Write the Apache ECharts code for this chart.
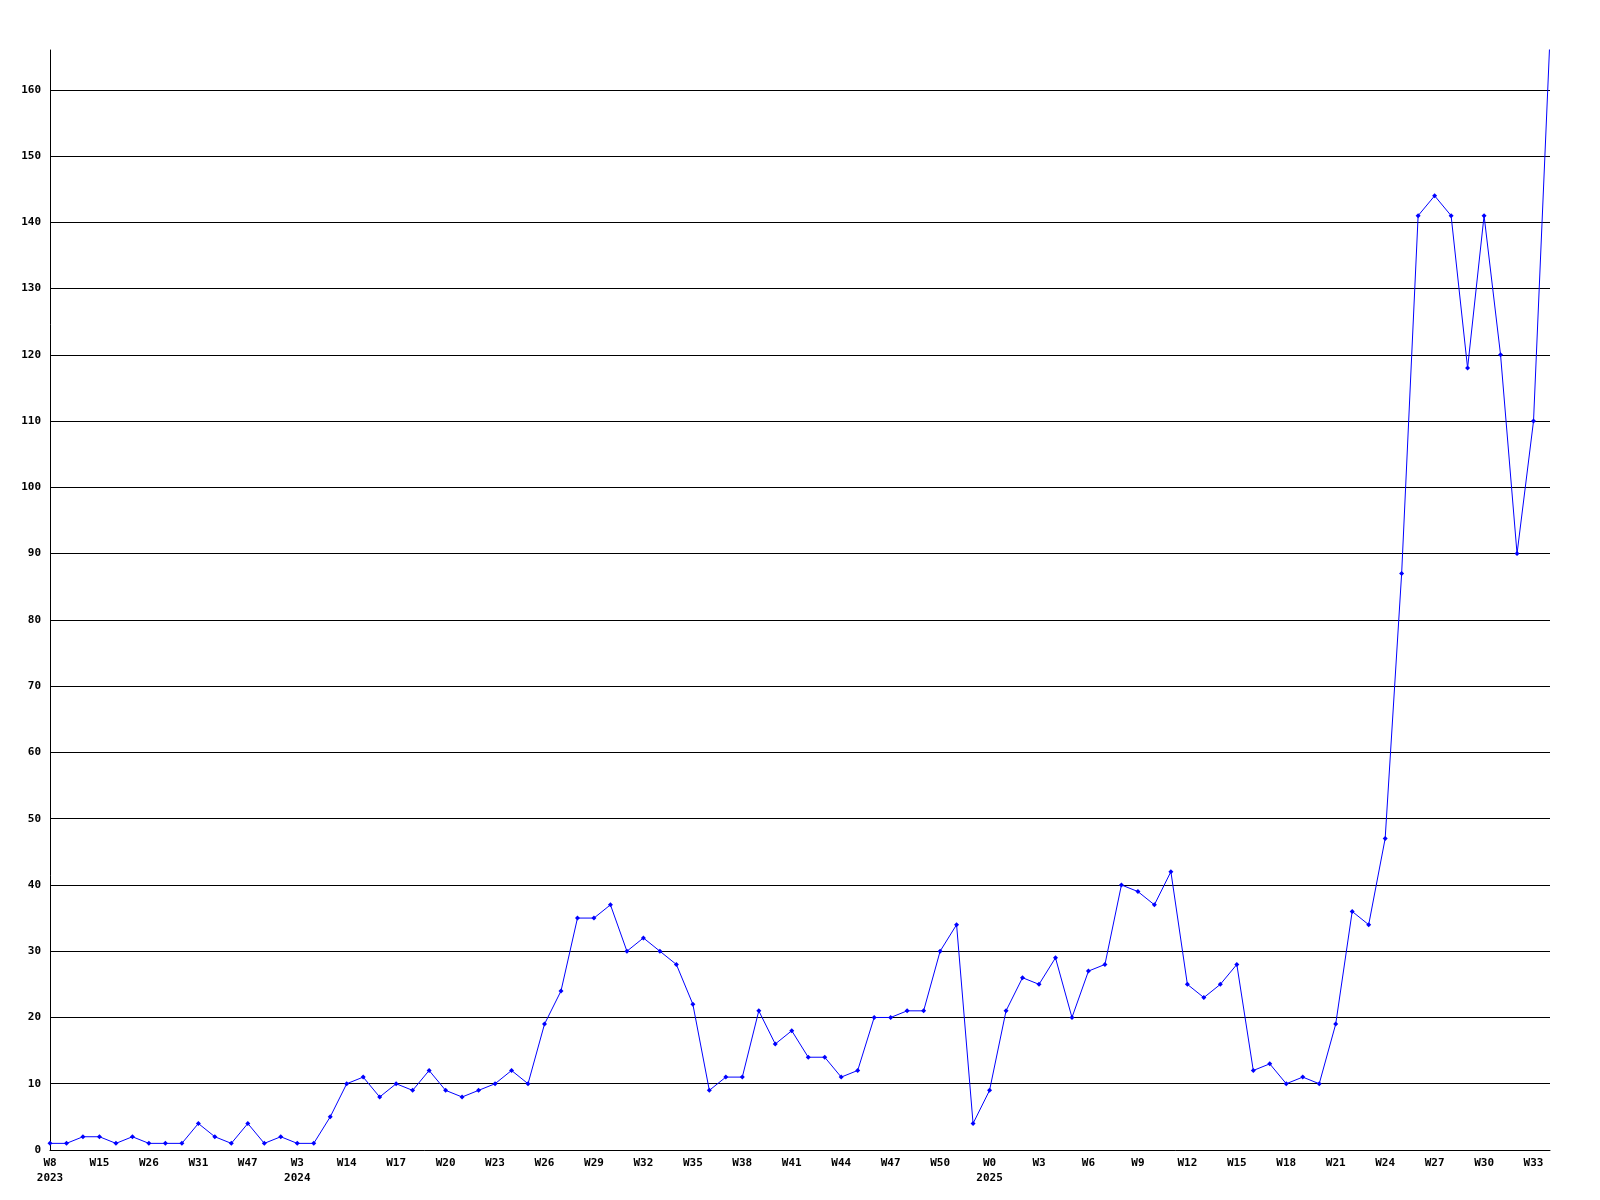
<!DOCTYPE html>
<html>
<head>
<meta charset="utf-8">
<script src="https://cdn.jsdelivr.net/npm/echarts@6/dist/echarts.min.js"></script>
<style>
html,body{margin:0;padding:0;background:#fff;}
#chart{width:1600px;height:1200px;}
</style>
</head>
<body>
<div id="chart"></div>
<script>
// Weekly values, one per point (index 0..91)
const values = [
  1, 1, 2, 2, 1, 2, 1, 1, 1, 4,
  2, 1, 4, 1, 2, 1, 1, 5, 10, 11,
  8, 10, 9, 12, 9, 8, 9, 10, 12, 10,
  19, 24, 35, 35, 37, 30, 32, 30, 28, 22,
  9, 11, 11, 21, 16, 18, 14, 14, 11, 12,
  20, 20, 21, 21, 30, 34, 4, 9, 21, 26,
  25, 29, 20, 27, 28, 40, 39, 37, 42, 25,
  23, 25, 28, 12, 13, 10, 11, 10, 19, 36,
  34, 47, 87, 141, 144, 141, 118, 141, 120, 90,
  110, 168
];
// Tick labels, one every 3 points
const weekTicks = ['W8','W15','W26','W31','W47','W3','W14','W17','W20','W23','W26','W29','W32','W35','W38','W41','W44','W47','W50','W0','W3','W6','W9','W12','W15','W18','W21','W24','W27','W30','W33'];
const yearTicks = ['2023','','','','','2024','','','','','','','','','','','','','','2025','','','','','','','','','','',''];
const yTickStep = 10;
const yMax = 166;

const seriesData = values.map((v, i) => [i, v]);
const font = 'DejaVu Sans Mono';

const chart = echarts.init(document.getElementById('chart'), null, {renderer: 'canvas'});
chart.setOption({
  animation: false,
  backgroundColor: '#ffffff',
  grid: {left: 50, right: 50, top: 50, bottom: 50, containLabel: false},
  xAxis: {
    type: 'value',
    min: 0,
    max: values.length - 1,
    interval: 3,
    axisLine: {show: true, onZero: false, lineStyle: {color: '#000', width: 1}},
    axisTick: {show: false},
    splitLine: {show: false},
    axisLabel: {
      show: true,
      margin: 6,
      color: '#000',
      fontFamily: font,
      fontWeight: 'bold',
      fontSize: 11,
      lineHeight: 15,
      showMaxLabel: false,
      formatter: function (v) {
        if (v % 3 !== 0) return '';
        const k = v / 3;
        if (k >= weekTicks.length) return '';
        return yearTicks[k] ? weekTicks[k] + '\n' + yearTicks[k] : weekTicks[k];
      }
    }
  },
  yAxis: {
    type: 'value',
    min: 0,
    max: yMax,
    interval: yTickStep,
    axisLine: {show: true, lineStyle: {color: '#000', width: 1}},
    axisTick: {show: false},
    splitLine: {show: true, showMinLine: false, showMaxLine: false, lineStyle: {color: '#000', width: 1}},
    axisLabel: {
      margin: 9,
      color: '#000',
      fontFamily: font,
      fontWeight: 'bold',
      fontSize: 11,
      showMaxLabel: false,
      formatter: function (v) { return (v % yTickStep === 0) ? String(v) : ''; }
    }
  },
  series: [{
    type: 'line',
    data: seriesData,
    symbol: 'diamond',
    symbolSize: 5,
    showAllSymbol: true,
    clip: true,
    lineStyle: {color: '#0000ff', width: 1},
    itemStyle: {color: '#0000ff'}
  }]
});
</script>
</body>
</html>
